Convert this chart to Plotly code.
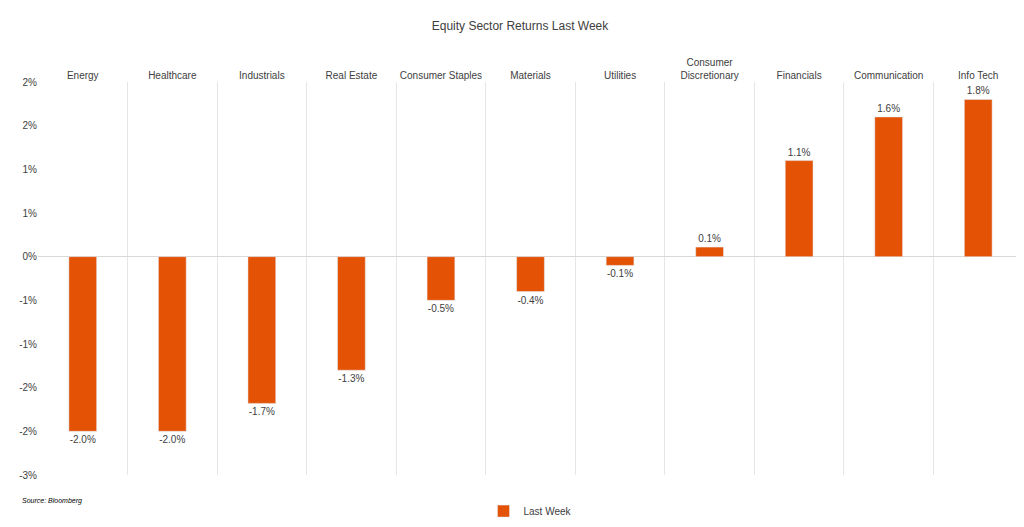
import plotly.graph_objects as go

sectors = ["Energy", "Healthcare", "Industrials", "Real Estate", "Consumer Staples",
           "Materials", "Utilities", "Consumer<br>Discretionary", "Financials",
           "Communication", "Info Tech"]
last_week = [-2.0, -2.0, -1.68, -1.3, -0.5, -0.4, -0.1, 0.11, 1.1, 1.6, 1.8]
tick_vals = [2.0, 1.5, 1.0, 0.5, 0.0, -0.5, -1.0, -1.5, -2.0, -2.5]
tick_text = ["2%", "2%", "1%", "1%", "0%", "-1%", "-1%", "-2%", "-2%", "-3%"]

orange = "#E35205"
fnt = "Liberation Sans"

fig = go.Figure()
fig.add_trace(go.Bar(
    x=sectors, y=last_week, name="Last Week", marker_color=orange, width=0.31,
    text=[f"{v:.1f}%" for v in last_week], textposition="outside",
    textfont=dict(size=10, color="#404040"), cliponaxis=False,
))

fig.update_layout(
    width=1024, height=527,
    plot_bgcolor="white", paper_bgcolor="white",
    font=dict(family=fnt, size=10, color="#404040"),
    title=dict(text="Equity Sector Returns Last Week", x=0.5, y=0.975,
               font=dict(size=12, color="#404040")),
    margin=dict(l=30, r=9, t=74, b=48),
    showlegend=True,
    legend=dict(orientation="h", x=0.5, xanchor="center", y=-0.055, yanchor="top",
                font=dict(size=10), itemwidth=30),
    xaxis=dict(side="top", tickson="boundaries", showgrid=True, gridcolor="#e6e6e6",
               ticks="", showline=False, tickfont=dict(size=10), tickangle=0,
               automargin=False),
    yaxis=dict(range=[-2.5, 2.0], tickvals=tick_vals, ticktext=tick_text,
               showgrid=False, zeroline=True, zerolinecolor="#d9d9d9", zerolinewidth=1,
               tickfont=dict(size=10), automargin=False),
)
fig.add_annotation(text="<i>Source: Bloomberg</i>", xref="paper", yref="paper",
                   x=-0.018, y=-0.05, xanchor="left", yanchor="top", showarrow=False,
                   font=dict(size=7, color="#000000"))

fig.write_html("out.html")
